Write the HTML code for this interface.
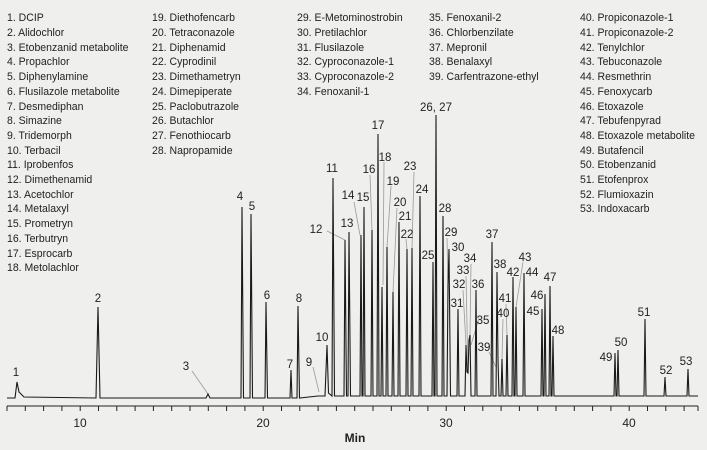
<!DOCTYPE html>
<html><head><meta charset="utf-8"><style>
html,body{margin:0;padding:0;background:#efefee;}
svg{display:block;font-family:"Liberation Sans",sans-serif;}
.l text{font-size:11.3px;fill:#222;}
.p text{font-size:11.5px;fill:#222;text-anchor:middle;}
</style></head><body>
<svg width="707" height="450" viewBox="0 0 707 450" xmlns="http://www.w3.org/2000/svg">
<rect width="707" height="450" fill="#efefee"/>
<g class="l">
<g transform="translate(7,0) scale(0.93,1)">
<text x="0" y="21">1. DCIP</text><text x="0" y="36">2. Alidochlor</text><text x="0" y="51">3. Etobenzanid metabolite</text><text x="0" y="65">4. Propachlor</text><text x="0" y="80">5. Diphenylamine</text><text x="0" y="95">6. Flusilazole metabolite</text><text x="0" y="110">7. Desmediphan</text><text x="0" y="124">8. Simazine</text><text x="0" y="139">9. Tridemorph</text><text x="0" y="154">10. Terbacil</text><text x="0" y="168">11. Iprobenfos</text><text x="0" y="183">12. Dimethenamid</text><text x="0" y="198">13. Acetochlor</text><text x="0" y="212">14. Metalaxyl</text><text x="0" y="227">15. Prometryn</text><text x="0" y="242">16. Terbutryn</text><text x="0" y="257">17. Esprocarb</text><text x="0" y="271">18. Metolachlor</text>
</g>
<g transform="translate(152,0) scale(0.93,1)">
<text x="0" y="21">19. Diethofencarb</text><text x="0" y="36">20. Tetraconazole</text><text x="0" y="51">21. Diphenamid</text><text x="0" y="65">22. Cyprodinil</text><text x="0" y="80">23. Dimethametryn</text><text x="0" y="95">24. Dimepiperate</text><text x="0" y="110">25. Paclobutrazole</text><text x="0" y="124">26. Butachlor</text><text x="0" y="139">27. Fenothiocarb</text><text x="0" y="154">28. Napropamide</text>
</g>
<g transform="translate(297,0) scale(0.93,1)">
<text x="0" y="21">29. E-Metominostrobin</text><text x="0" y="36">30. Pretilachlor</text><text x="0" y="51">31. Flusilazole</text><text x="0" y="65">32. Cyproconazole-1</text><text x="0" y="80">33. Cyproconazole-2</text><text x="0" y="95">34. Fenoxanil-1</text>
</g>
<g transform="translate(429,0) scale(0.93,1)">
<text x="0" y="21">35. Fenoxanil-2</text><text x="0" y="36">36. Chlorbenzilate</text><text x="0" y="51">37. Mepronil</text><text x="0" y="65">38. Benalaxyl</text><text x="0" y="80">39. Carfentrazone-ethyl</text>
</g>
<g transform="translate(580,0) scale(0.93,1)">
<text x="0" y="21">40. Propiconazole-1</text><text x="0" y="36">41. Propiconazole-2</text><text x="0" y="51">42. Tenylchlor</text><text x="0" y="65">43. Tebuconazole</text><text x="0" y="80">44. Resmethrin</text><text x="0" y="95">45. Fenoxycarb</text><text x="0" y="110">46. Etoxazole</text><text x="0" y="124">47. Tebufenpyrad</text><text x="0" y="139">48. Etoxazole metabolite</text><text x="0" y="154">49. Butafencil</text><text x="0" y="168">50. Etobenzanid</text><text x="0" y="183">51. Etofenprox</text><text x="0" y="198">52. Flumioxazin</text><text x="0" y="212">53. Indoxacarb</text>
</g>
</g>
<g stroke="#999" stroke-width="0.8">
<line x1="192" y1="371" x2="208" y2="394"/><line x1="313" y1="367" x2="319" y2="392"/>
<line x1="327" y1="231" x2="345" y2="240"/><line x1="354" y1="202" x2="360" y2="235"/>
<line x1="370" y1="175" x2="372" y2="230"/><line x1="384" y1="162" x2="383" y2="285"/>
<line x1="391" y1="186" x2="387" y2="247"/><line x1="397" y1="208" x2="393" y2="292"/>
<line x1="406" y1="239" x2="407" y2="249"/><line x1="414" y1="172" x2="412" y2="248"/>
<line x1="447" y1="238" x2="448" y2="285"/><line x1="463" y1="290" x2="466" y2="345"/>
<line x1="466" y1="276" x2="468" y2="373"/><line x1="471" y1="264" x2="470" y2="335"/>
<line x1="479" y1="318" x2="471" y2="345"/><line x1="489" y1="352" x2="496" y2="367"/>
<line x1="503" y1="319" x2="502" y2="359"/><line x1="506" y1="304" x2="507" y2="335"/>
<line x1="523" y1="262" x2="516" y2="307"/>
</g>
<path fill="none" stroke="#1a1a1a" stroke-width="1.1" d="M7,398 L15,398 L17,382 L19,392 L24,397 L96,398 L98,307 L100,398 L206,398 L208,394 L210,398 L241,398 L242,207 L243.5,398 L250,398 L251,214 L252.5,398 L265,398 L266,302 L267.5,398 L290,398 L291,370 L292,398 L297,398 L298,306 L299.5,398 L318,396 L325,396 L327,345 L328.5,393 L332,396 L333,178 L334.5,396 L344,396 L345,240 L346.5,396 L348,396 L349,232 L350.5,396 L360,396 L361,235 L362,396 L363,396 L364,207 L365,396 L371,396 L372,230 L373,396 L377,396 L378,134 L379,396 L381,396 L382,287 L383,396 L386,396 L387,247 L388,396 L392,396 L393,292 L394,396 L398,396 L399,222 L400,396 L406,396 L407,249 L408,396 L411,396 L412,248 L413,396 L419,396 L420,196 L421,396 L432,396 L433,262 L434,396 L435,396 L436,115 L437,396 L442,396 L443,216 L444,396 L447,396 L448,285 L449,249 L450.5,396 L457,396 L458,309 L459,396 L465,396 L466,345 L467,372 L468,373 L469,340 L470,335 L471,396 L475,396 L476,290 L477,396 L491,396 L492,242 L493,396 L496,396 L497,272 L498,360 L499,396 L501,396 L502,359 L503,396 L506,396 L507,335 L508,396 L512,396 L513,277 L514,396 L515,396 L516,307 L517,396 L523,396 L524,273 L525,396 L541,396 L542,309 L543,396 L544,396 L545,294 L546,396 L549,396 L550,286 L551,396 L552,396 L553,336 L554,396 L614,396 L615,353 L616,396 L617,396 L618,350 L619,396 L644,396 L645,319 L646,396 L664,396 L665,377 L666,396 L687,396 L688,369 L689,396 L698,396"/>
<g class="p">
<text x="16" y="376">1</text><text x="98" y="302">2</text><text x="186" y="370">3</text><text x="240" y="200">4</text><text x="252" y="210">5</text><text x="267" y="299">6</text><text x="290" y="368">7</text><text x="299" y="302">8</text><text x="309" y="366">9</text><text x="322" y="341">10</text><text x="332" y="172">11</text><text x="316" y="233">12</text><text x="347" y="227">13</text><text x="348" y="199">14</text><text x="363" y="201">15</text><text x="369" y="173">16</text><text x="378" y="129">17</text><text x="385" y="161">18</text><text x="393" y="185">19</text><text x="400" y="206">20</text><text x="405" y="220">21</text><text x="407" y="238">22</text><text x="410" y="170">23</text><text x="422" y="193">24</text><text x="428" y="259">25</text><text x="436" y="111">26, 27</text><text x="445" y="212">28</text><text x="451" y="236">29</text><text x="458" y="251">30</text><text x="457" y="307">31</text><text x="459" y="288">32</text><text x="463" y="274">33</text><text x="470" y="262">34</text><text x="483" y="324">35</text><text x="478" y="288">36</text><text x="492" y="238">37</text><text x="500" y="268">38</text><text x="484" y="351">39</text><text x="503" y="317">40</text><text x="505" y="302">41</text><text x="513" y="276">42</text><text x="525" y="261">43</text><text x="532" y="276">44</text><text x="533" y="315">45</text><text x="537" y="299">46</text><text x="550" y="281">47</text><text x="558" y="334">48</text><text x="606" y="361">49</text><text x="621" y="346">50</text><text x="644" y="316">51</text><text x="666" y="374">52</text><text x="686" y="365">53</text>
</g>
<line x1="7" y1="406" x2="698" y2="406" stroke="#222" stroke-width="1"/>
<path stroke="#222" stroke-width="1" d="M7,406v5M25.3,406v5M43.6,406v5M61.9,406v5M80.2,406v5M98.5,406v5M116.8,406v5M135.1,406v5M153.4,406v5M171.7,406v5M190,406v5M208.3,406v5M226.6,406v5M244.9,406v5M263.2,406v5M281.5,406v5M299.8,406v5M318.1,406v5M336.4,406v5M354.7,406v5M373,406v5M391.3,406v5M409.6,406v5M427.9,406v5M446.2,406v5M464.5,406v5M482.8,406v5M501.1,406v5M519.4,406v5M537.7,406v5M556,406v5M574.3,406v5M592.6,406v5M610.9,406v5M629.2,406v5M647.5,406v5M665.8,406v5M684.1,406v5M698,406v5"/>
<g style="font-size:12px;fill:#222;text-anchor:middle">
<text x="80" y="427">10</text><text x="263" y="427">20</text><text x="446" y="427">30</text><text x="629" y="427">40</text>
<text x="355" y="442" style="font-weight:bold">Min</text>
</g>
</svg>
</body></html>
